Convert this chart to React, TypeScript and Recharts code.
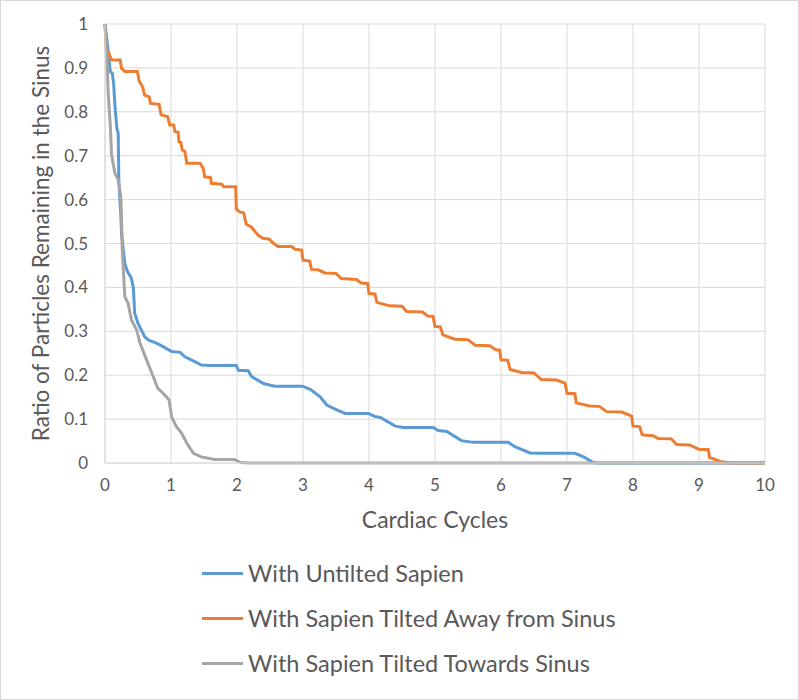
import React from 'react';
import { LineChart, Line, XAxis, YAxis, CartesianGrid, Legend } from 'recharts';

// Cardiac cycles (x) vs ratio remaining (y)
const untiltedPoints = [
  { x: 0, y: 1 }, { x: 0.05, y: 0.937 }, { x: 0.08, y: 0.891 }, { x: 0.11, y: 0.888 },
  { x: 0.13, y: 0.865 }, { x: 0.15, y: 0.815 }, { x: 0.18, y: 0.762 }, { x: 0.2, y: 0.751 },
  { x: 0.21, y: 0.641 }, { x: 0.24, y: 0.565 }, { x: 0.25, y: 0.523 }, { x: 0.3, y: 0.455 },
  { x: 0.34, y: 0.436 }, { x: 0.4, y: 0.421 }, { x: 0.43, y: 0.398 }, { x: 0.45, y: 0.341 },
  { x: 0.5, y: 0.318 }, { x: 0.6, y: 0.288 }, { x: 0.66, y: 0.28 }, { x: 0.78, y: 0.273 },
  { x: 0.88, y: 0.265 }, { x: 1.01, y: 0.254 }, { x: 1.14, y: 0.252 }, { x: 1.21, y: 0.242 },
  { x: 1.36, y: 0.231 }, { x: 1.46, y: 0.223 }, { x: 1.59, y: 0.222 }, { x: 1.99, y: 0.222 },
  { x: 2.02, y: 0.211 }, { x: 2.17, y: 0.21 }, { x: 2.22, y: 0.197 }, { x: 2.4, y: 0.181 },
  { x: 2.57, y: 0.175 }, { x: 2.99, y: 0.175 }, { x: 3.11, y: 0.168 }, { x: 3.26, y: 0.151 },
  { x: 3.36, y: 0.132 }, { x: 3.51, y: 0.121 }, { x: 3.64, y: 0.113 }, { x: 3.99, y: 0.113 },
  { x: 4.09, y: 0.106 }, { x: 4.17, y: 0.104 }, { x: 4.4, y: 0.084 }, { x: 4.52, y: 0.081 },
  { x: 4.97, y: 0.081 }, { x: 5.05, y: 0.074 }, { x: 5.18, y: 0.072 }, { x: 5.4, y: 0.051 },
  { x: 5.58, y: 0.047 }, { x: 6.11, y: 0.047 }, { x: 6.21, y: 0.037 }, { x: 6.44, y: 0.023 },
  { x: 6.59, y: 0.022 }, { x: 7.12, y: 0.022 }, { x: 7.25, y: 0.014 }, { x: 7.4, y: 0.001 },
  { x: 7.48, y: 0 }, { x: 10, y: 0 },
];

const tiltedAwayPoints = [
  { x: 0, y: 1 }, { x: 0.02, y: 0.94 }, { x: 0.05, y: 0.937 }, { x: 0.1, y: 0.918 },
  { x: 0.23, y: 0.918 }, { x: 0.25, y: 0.899 }, { x: 0.3, y: 0.892 }, { x: 0.49, y: 0.892 },
  { x: 0.52, y: 0.869 }, { x: 0.57, y: 0.857 }, { x: 0.6, y: 0.838 }, { x: 0.67, y: 0.834 },
  { x: 0.69, y: 0.819 }, { x: 0.82, y: 0.817 }, { x: 0.85, y: 0.793 }, { x: 0.95, y: 0.789 },
  { x: 0.98, y: 0.77 }, { x: 1.04, y: 0.77 }, { x: 1.06, y: 0.755 }, { x: 1.11, y: 0.753 },
  { x: 1.12, y: 0.732 }, { x: 1.15, y: 0.73 }, { x: 1.17, y: 0.713 }, { x: 1.21, y: 0.71 },
  { x: 1.24, y: 0.683 }, { x: 1.44, y: 0.683 }, { x: 1.49, y: 0.671 }, { x: 1.51, y: 0.652 },
  { x: 1.6, y: 0.65 }, { x: 1.61, y: 0.637 }, { x: 1.77, y: 0.635 }, { x: 1.8, y: 0.629 },
  { x: 1.98, y: 0.629 }, { x: 1.99, y: 0.578 }, { x: 2.04, y: 0.572 }, { x: 2.1, y: 0.57 },
  { x: 2.14, y: 0.544 }, { x: 2.22, y: 0.537 }, { x: 2.32, y: 0.519 }, { x: 2.39, y: 0.512 },
  { x: 2.49, y: 0.51 }, { x: 2.54, y: 0.502 }, { x: 2.62, y: 0.493 }, { x: 2.83, y: 0.493 },
  { x: 2.88, y: 0.487 }, { x: 2.98, y: 0.485 }, { x: 3.0, y: 0.462 }, { x: 3.1, y: 0.46 },
  { x: 3.13, y: 0.441 }, { x: 3.23, y: 0.44 }, { x: 3.33, y: 0.433 }, { x: 3.5, y: 0.432 },
  { x: 3.58, y: 0.42 }, { x: 3.81, y: 0.418 }, { x: 3.88, y: 0.41 }, { x: 3.98, y: 0.409 },
  { x: 4.0, y: 0.386 }, { x: 4.09, y: 0.385 }, { x: 4.12, y: 0.366 }, { x: 4.31, y: 0.358 },
  { x: 4.5, y: 0.357 }, { x: 4.57, y: 0.345 }, { x: 4.81, y: 0.344 }, { x: 4.89, y: 0.335 },
  { x: 4.97, y: 0.334 }, { x: 5.0, y: 0.311 }, { x: 5.08, y: 0.31 }, { x: 5.12, y: 0.292 },
  { x: 5.3, y: 0.282 }, { x: 5.5, y: 0.281 }, { x: 5.61, y: 0.268 }, { x: 5.83, y: 0.267 },
  { x: 5.92, y: 0.258 }, { x: 5.98, y: 0.257 }, { x: 6.0, y: 0.235 }, { x: 6.1, y: 0.234 },
  { x: 6.14, y: 0.213 }, { x: 6.31, y: 0.206 }, { x: 6.5, y: 0.205 }, { x: 6.61, y: 0.19 },
  { x: 6.84, y: 0.189 }, { x: 6.97, y: 0.182 }, { x: 7.0, y: 0.159 }, { x: 7.12, y: 0.158 },
  { x: 7.14, y: 0.137 }, { x: 7.34, y: 0.13 }, { x: 7.49, y: 0.129 }, { x: 7.6, y: 0.117 },
  { x: 7.83, y: 0.116 }, { x: 7.98, y: 0.107 }, { x: 8.0, y: 0.084 }, { x: 8.1, y: 0.083 },
  { x: 8.14, y: 0.064 }, { x: 8.3, y: 0.062 }, { x: 8.38, y: 0.056 }, { x: 8.58, y: 0.055 },
  { x: 8.66, y: 0.042 }, { x: 8.86, y: 0.041 }, { x: 9.0, y: 0.031 }, { x: 9.14, y: 0.031 },
  { x: 9.16, y: 0.013 }, { x: 9.33, y: 0.003 }, { x: 9.52, y: 0 }, { x: 10, y: 0 },
];

const tiltedTowardsPoints = [
  { x: 0, y: 1 }, { x: 0.025, y: 0.944 }, { x: 0.05, y: 0.838 }, { x: 0.08, y: 0.77 },
  { x: 0.1, y: 0.702 }, { x: 0.15, y: 0.66 }, { x: 0.2, y: 0.645 }, { x: 0.24, y: 0.607 },
  { x: 0.25, y: 0.565 }, { x: 0.26, y: 0.49 }, { x: 0.3, y: 0.379 }, { x: 0.35, y: 0.364 },
  { x: 0.4, y: 0.326 }, { x: 0.48, y: 0.303 }, { x: 0.53, y: 0.273 }, { x: 0.63, y: 0.235 },
  { x: 0.73, y: 0.197 }, { x: 0.8, y: 0.17 }, { x: 0.88, y: 0.159 }, { x: 0.97, y: 0.144 },
  { x: 1.01, y: 0.105 }, { x: 1.08, y: 0.083 }, { x: 1.16, y: 0.068 }, { x: 1.24, y: 0.045 },
  { x: 1.34, y: 0.022 }, { x: 1.46, y: 0.014 }, { x: 1.66, y: 0.008 }, { x: 1.96, y: 0.008 },
  { x: 2.06, y: 0.001 }, { x: 2.2, y: 0 }, { x: 10, y: 0 },
];

const xTicks = [0, 1, 2, 3, 4, 5, 6, 7, 8, 9, 10];
const yTicks = [0, 0.1, 0.2, 0.3, 0.4, 0.5, 0.6, 0.7, 0.8, 0.9, 1];

const seriesNames = [
  'With Untilted Sapien',
  'With Sapien Tilted Away from Sinus',
  'With Sapien Tilted Towards Sinus',
];
const seriesColors = ['#5b9bd5', '#ed7d31', '#a5a5a5'];
const seriesData = [untiltedPoints, tiltedAwayPoints, tiltedTowardsPoints];

const FONT = 'Lato, "Open Sans", sans-serif';
const TEXT = '#595959';

const LegendContent = () => (
  <div style={{ position: 'relative', width: 799, height: 140, fontFamily: FONT }}>
    {seriesNames.map((name, i) => (
      <div
        key={name}
        style={{
          position: 'absolute',
          left: 202,
          top: 23 + i * 45 - 15,
          height: 30,
          display: 'flex',
          alignItems: 'center',
        }}
      >
        <div style={{ width: 41, height: 3, background: seriesColors[i] }} />
        <span style={{ marginLeft: 5, fontSize: 23.5, color: TEXT, whiteSpace: 'nowrap' }}>{name}</span>
      </div>
    ))}
  </div>
);

export default function App() {
  return (
    <div style={{ position: 'absolute', left: 0, top: 0, width: 799, height: 700, background: '#fff' }}>
      <LineChart
        width={799}
        height={700}
        margin={{ top: 24, right: 34, left: 0, bottom: 10 }}
        style={{ fontFamily: FONT }}
      >
        <CartesianGrid stroke="#d9d9d9" strokeWidth={1} />
        <XAxis
          dataKey="x"
          type="number"
          domain={[0, 10]}
          ticks={xTicks}
          allowDuplicatedCategory={false}
          tickLine={false}
          axisLine={{ stroke: '#d9d9d9' }}
          tick={{ fill: TEXT, fontSize: 17 }}
          tickMargin={10}
          height={87}
          label={{ value: 'Cardiac Cycles', position: 'insideBottom', offset: 22, fill: TEXT, fontSize: 23 }}
        />
        <YAxis
          type="number"
          domain={[0, 1]}
          ticks={yTicks}
          tickFormatter={(v: number) => String(Number(v.toFixed(1)))}
          tickLine={false}
          axisLine={{ stroke: '#d9d9d9' }}
          tick={{ fill: TEXT, fontSize: 17 }}
          tickMargin={11}
          width={105}
          label={{
            value: 'Ratio of Particles Remaining in the Sinus',
            angle: -90,
            position: 'center',
            dx: -11,
            fill: TEXT,
            fontSize: 22.5,
          }}
        />
        {seriesData.map((d, i) => (
          <Line
            key={seriesNames[i]}
            data={d}
            dataKey="y"
            name={seriesNames[i]}
            type="linear"
            stroke={seriesColors[i]}
            strokeWidth={3}
            dot={false}
            activeDot={false}
            isAnimationActive={false}
          />
        ))}
        <Legend verticalAlign="bottom" height={140} wrapperStyle={{ left: 0, width: 799 }} content={<LegendContent />} />
      </LineChart>
      <div
        style={{
          position: 'absolute',
          left: 0,
          top: 0,
          width: 799,
          height: 700,
          boxSizing: 'border-box',
          border: '1px solid #d9d9d9',
          pointerEvents: 'none',
        }}
      />
    </div>
  );
}
